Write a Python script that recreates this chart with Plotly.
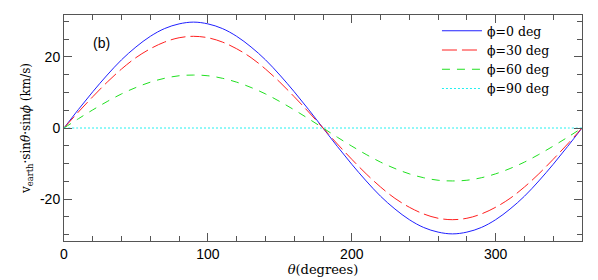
import plotly.graph_objects as go

theta = [0, 10, 20, 30, 40, 50, 60, 70, 80, 90, 100, 110, 120, 130, 140, 150, 160, 170, 180,
         190, 200, 210, 220, 230, 240, 250, 260, 270, 280, 290, 300, 310, 320, 330, 340, 350, 360]

v_phi0 = [0.0, 5.2, 10.2, 14.9, 19.2, 22.8, 25.8, 28.0, 29.3, 29.8, 29.3, 28.0, 25.8, 22.8, 19.2, 14.9, 10.2, 5.2, 0.0,
          -5.2, -10.2, -14.9, -19.2, -22.8, -25.8, -28.0, -29.3, -29.8, -29.3, -28.0, -25.8, -22.8, -19.2, -14.9, -10.2, -5.2, 0.0]
v_phi30 = [0.0, 4.5, 8.8, 12.9, 16.6, 19.8, 22.3, 24.2, 25.4, 25.8, 25.4, 24.2, 22.3, 19.8, 16.6, 12.9, 8.8, 4.5, 0.0,
           -4.5, -8.8, -12.9, -16.6, -19.8, -22.3, -24.2, -25.4, -25.8, -25.4, -24.2, -22.3, -19.8, -16.6, -12.9, -8.8, -4.5, 0.0]
v_phi60 = [0.0, 2.6, 5.1, 7.45, 9.6, 11.4, 12.9, 14.0, 14.7, 14.9, 14.7, 14.0, 12.9, 11.4, 9.6, 7.45, 5.1, 2.6, 0.0,
           -2.6, -5.1, -7.45, -9.6, -11.4, -12.9, -14.0, -14.7, -14.9, -14.7, -14.0, -12.9, -11.4, -9.6, -7.45, -5.1, -2.6, 0.0]
v_phi90 = [0.0] * 37

series_names = ["ϕ=0 deg", "ϕ=30 deg", "ϕ=60 deg", "ϕ=90 deg"]
series_values = [v_phi0, v_phi30, v_phi60, v_phi90]
colors = ["#2020ff", "#ff2020", "#20e020", "#20f0f0"]
dashes = ["solid", "15px,5px", "8px,7px", "2px,2px"]

x_tick_vals = [0, 100, 200, 300]
x_tick_text = ["0", "100", "200", "300"]
y_tick_vals = [-20, 0, 20]
y_tick_text = ["-20", "0", "20"]

fig = go.Figure()
for name, vals, c, d in zip(series_names, series_values, colors, dashes):
    fig.add_trace(go.Scatter(x=theta, y=vals, mode="lines", name=name,
                             line=dict(color=c, width=1, dash=d, shape="spline")))

axis_common = dict(showgrid=False, zeroline=False, showline=True, linecolor="#555555", linewidth=1,
                   mirror="ticks", ticks="inside", tickcolor="#555555", ticklen=8, tickwidth=1,
                   automargin=False,
                   tickfont=dict(family="Liberation Sans, Arial", size=14, color="black"))

fig.update_xaxes(range=[0, 360], tickvals=x_tick_vals, ticktext=x_tick_text,
                 minor=dict(dtick=20, tick0=0, ticks="inside", ticklen=5, tickcolor="#555555"),
                 title=dict(text="<i>θ</i>(degrees)", font=dict(family="DejaVu Serif", size=13, color="black"), standoff=4),
                 **axis_common)
fig.update_yaxes(range=[-31.8, 31.8], tickvals=y_tick_vals, ticktext=y_tick_text,
                 minor=dict(dtick=5, tick0=0, ticks="inside", ticklen=5, tickcolor="#555555"),
                 title=dict(text="v<sub>earth</sub>·sin<i>θ</i>·sin<i>ϕ</i> (km/s)",
                            font=dict(family="DejaVu Serif", size=12, color="black"), standoff=6),
                 **axis_common)

fig.add_annotation(x=25.8, y=24.0, text="(b)", showarrow=False,
                   font=dict(family="Liberation Sans, Arial", size=14, color="black"))

fig.update_layout(
    width=598, height=280,
    margin=dict(l=56, r=24, t=7, b=47),
    paper_bgcolor="white", plot_bgcolor="white",
    showlegend=True,
    legend=dict(x=0.72, y=0.995, xanchor="left", yanchor="top", bgcolor="rgba(0,0,0,0)",
                font=dict(family="DejaVu Serif", size=12.5, color="black"),
                tracegroupgap=0, itemwidth=40),
)

fig.write_html("out.html")
